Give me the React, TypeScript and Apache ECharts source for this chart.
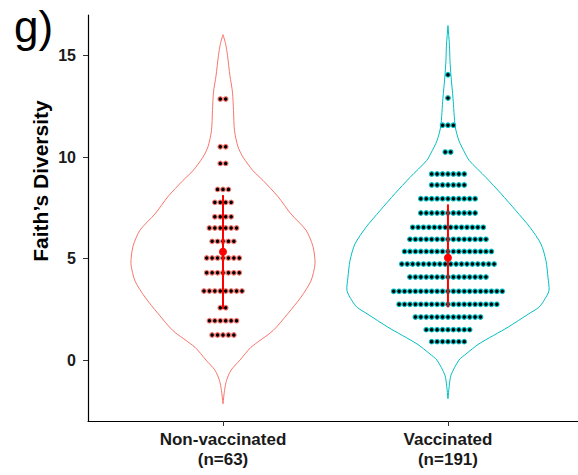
import React, { useEffect, useRef } from "react";
import * as echarts from "echarts";

// ---- data ----
const groups = ["Non-vaccinated", "Vaccinated"];
const groupN = [63, 191];
const groupX = [1, 2];
const groupColors = ["#F8766D", "#00BFC4"];

// violin outline: value (y) and relative density (1 = widest)
const nonVacViolinY = [16.03, 15.6, 15.0, 14.0, 13.2, 12.3, 11.3, 10.5, 10.0, 9.33, 8.85, 8.05, 7.2, 6.4, 5.6, 4.75, 3.9, 3.1, 2.3, 1.45, 0.63, 0.0, -0.5, -1.0, -1.5, -2.15];
const nonVacViolinD = [0, 0.025, 0.045, 0.069, 0.094, 0.104, 0.114, 0.149, 0.198, 0.297, 0.396, 0.545, 0.673, 0.822, 0.891, 0.911, 0.871, 0.772, 0.644, 0.495, 0.277, 0.168, 0.079, 0.035, 0.015, 0];
const vacViolinY = [16.48, 15.5, 14.75, 14.0, 12.9, 11.5, 10.8, 10.2, 9.83, 9.0, 8.2, 7.36, 6.54, 5.72, 4.9, 4.08, 3.42, 2.93, 2.6, 2.28, 1.62, 0.8, 0.3, 0.0, -0.74, -1.3, -1.9];
const vacViolinD = [0, 0.015, 0.02, 0.03, 0.05, 0.072, 0.109, 0.168, 0.211, 0.376, 0.525, 0.673, 0.812, 0.921, 0.97, 0.99, 1.0, 0.95, 0.9, 0.8, 0.594, 0.307, 0.178, 0.109, 0.03, 0.012, 0];

// dot plot rows: bin value and number of dots
const nonVacDotY = [12.86, 10.51, 9.69, 8.41, 7.77, 7.06, 6.51, 5.85, 5.03, 4.3, 3.4, 2.58, 1.94, 1.24];
const nonVacDotN = [2, 2, 2, 3, 4, 4, 6, 5, 7, 7, 8, 2, 6, 5];
const vacDotY = [14.06, 12.91, 11.57, 10.25, 9.17, 8.63, 7.95, 7.25, 6.54, 5.95, 5.35, 4.73, 4.09, 3.39, 2.75, 2.12, 1.5, 0.91];
const vacDotN = [1, 1, 3, 2, 7, 7, 11, 11, 14, 15, 17, 18, 15, 21, 19, 13, 9, 7];

// mean and mean ± sd
const meanValues = [5.34, 5.04];
const sdLow = [2.52, 2.6];
const sdHigh = [8.13, 7.67];

const yTicks = [0, 5, 10, 15];

const violinY = [nonVacViolinY, vacViolinY];
const violinD = [nonVacViolinD, vacViolinD];
const dotY = [nonVacDotY, vacDotY];
const dotN = [nonVacDotN, vacDotN];

const FONT = "'Liberation Sans', Arial, Helvetica, sans-serif";
const HALF_WIDTH = 0.449; // x-axis units for density 1
const DOT_STEP = 5.43; // px between stacked dots

export default function App() {
  const ref = useRef<HTMLDivElement>(null);
  useEffect(() => {
    if (!ref.current) return;
    const chart = echarts.init(ref.current, null, { renderer: "svg" });
    const option: any = {
      animation: false,
      backgroundColor: "#ffffff",
      grid: { left: 88, right: 0, top: 15, bottom: 54 },
      xAxis: {
        type: "value",
        min: 0.4,
        max: 2.578,
        splitLine: { show: false },
        axisLine: { show: true, onZero: false, lineStyle: { color: "#000", width: 1.2 } },
        axisTick: { show: true, length: 5, customValues: groupX, lineStyle: { color: "#333", width: 1 } },
        axisLabel: {
          customValues: groupX,
          formatter: (v: number) => {
            const i = groupX.indexOf(Math.round(v));
            return i >= 0 ? `${groups[i]}\n(n=${groupN[i]})` : "";
          },
          fontFamily: FONT,
          fontSize: 17,
          fontWeight: "bold",
          color: "#1a1a1a",
          lineHeight: 20,
          margin: 8,
        },
      },
      yAxis: {
        type: "value",
        min: -3,
        max: 17,
        splitLine: { show: false },
        axisLine: { show: true, onZero: false, lineStyle: { color: "#000", width: 1.2 } },
        axisTick: { show: true, length: 5, customValues: yTicks, lineStyle: { color: "#333", width: 1 } },
        axisLabel: {
          customValues: yTicks,
          fontFamily: FONT,
          fontSize: 16,
          fontWeight: "bold",
          color: "#1a1a1a",
          margin: 12,
        },
      },
      graphic: [
        {
          type: "text",
          left: 14,
          top: 4,
          style: { text: "g)", fontFamily: FONT, fontSize: 44, fill: "#000" },
        },
        {
          type: "text",
          x: 40,
          y: 181,
          rotation: Math.PI / 2,
          style: {
            text: "Faith\u2019s Diversity",
            fontFamily: FONT,
            fontSize: 21,
            fontWeight: "bold",
            fill: "#000",
            align: "center",
            verticalAlign: "middle",
          },
        },
      ],
      series: [
        {
          type: "custom",
          name: "violin",
          clip: false,
          data: [0, 1],
          renderItem: (params: any, api: any) => {
            const idx = params.dataIndex;
            const ys = violinY[idx];
            const ds = violinD[idx];
            const cx = groupX[idx];
            const left: number[][] = [];
            const right: number[][] = [];
            for (let i = 0; i < ys.length; i++) {
              left.push(api.coord([cx - ds[i] * HALF_WIDTH, ys[i]]));
              right.push(api.coord([cx + ds[i] * HALF_WIDTH, ys[i]]));
            }
            const pts = left.concat(right.reverse());
            return {
              type: "polygon",
              shape: { points: pts, smooth: 0.25 },
              style: { fill: "none", stroke: groupColors[idx], lineWidth: 1 },
            };
          },
        },
        {
          type: "custom",
          name: "dots",
          clip: false,
          data: [0, 1],
          renderItem: (params: any, api: any) => {
            const idx = params.dataIndex;
            const children: any[] = [];
            const ys = dotY[idx];
            const ns = dotN[idx];
            for (let r = 0; r < ys.length; r++) {
              const c = api.coord([groupX[idx], ys[r]]);
              const n = ns[r];
              for (let k = 0; k < n; k++) {
                children.push({
                  type: "circle",
                  shape: { cx: c[0] + (k - (n - 1) / 2) * DOT_STEP, cy: c[1], r: 2.3 },
                  style: { fill: "#000", stroke: groupColors[idx], lineWidth: 1.1 },
                });
              }
            }
            return { type: "group", children };
          },
        },
        {
          type: "custom",
          name: "mean",
          clip: false,
          data: [0, 1],
          renderItem: (params: any, api: any) => {
            const idx = params.dataIndex;
            const top = api.coord([groupX[idx], sdHigh[idx]]);
            const bot = api.coord([groupX[idx], sdLow[idx]]);
            const m = api.coord([groupX[idx], meanValues[idx]]);
            return {
              type: "group",
              children: [
                {
                  type: "line",
                  shape: { x1: top[0], y1: top[1], x2: bot[0], y2: bot[1] },
                  style: { stroke: "#FF0000", lineWidth: 2 },
                },
                {
                  type: "circle",
                  shape: { cx: m[0], cy: m[1], r: 4 },
                  style: { fill: "#FF0000" },
                },
              ],
            };
          },
        },
      ],
    };
    chart.setOption(option);
    return () => chart.dispose();
  }, []);
  return (
    <div
      ref={ref}
      style={{ position: "fixed", left: 0, top: 0, width: 578, height: 475 }}
    />
  );
}
